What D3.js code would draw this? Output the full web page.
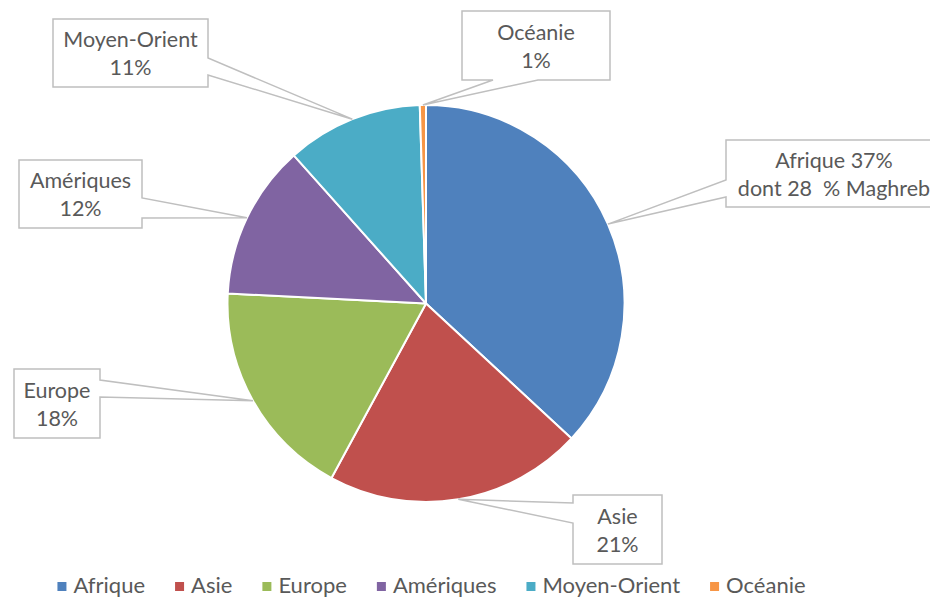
<!DOCTYPE html>
<html><head><meta charset="utf-8">
<script src="https://cdn.jsdelivr.net/npm/d3@7"></script>
<style>html,body{margin:0;padding:0;background:#fff;overflow:hidden} text{white-space:pre}</style>
</head><body>
<svg id="c" width="930" height="598"></svg>
<script>
const categories = ["Afrique","Asie","Europe","Amériques","Moyen-Orient","Océanie"];
const values = [36.9, 21.0, 17.9, 12.6, 11.1, 0.5];
const labelLine1 = ["Afrique 37%","Asie","Europe","Amériques","Moyen-Orient","Océanie"];
const labelLine2 = ["dont 28  % Maghreb","21%","18%","12%","11%","1%"];
const colors = ["#4F81BD","#C0504D","#9BBB59","#8064A2","#4BACC6","#F79646"];

// callout box layout
const boxes = [
  {x:726,y:140,w:216,h:67,side:"left",b1:180,b2:197},
  {x:573,y:495,w:89,h:69,side:"left",b1:503,b2:523},
  {x:14,y:369,w:86,h:69,side:"right",b1:380,b2:397},
  {x:19,y:160,w:123,h:68,side:"right",b1:198,b2:218},
  {x:53,y:19,w:155,h:68,side:"right",b1:58,b2:75},
  {x:462,y:11,w:148,h:69,side:"bottom",b1:493,b2:538}
];

const FONT = "Lato, 'Open Sans', sans-serif";
const svg = d3.select("#c");
const cx = 426, cy = 303.5, R = 198.5;

const pie = d3.pie().sort(null).value(d=>d);
const arcs = pie(values);
const arc = d3.arc().innerRadius(0).outerRadius(R);

const g = svg.append("g").attr("transform",`translate(${cx},${cy})`);
g.selectAll("path").data(arcs).join("path")
  .attr("d",arc).attr("fill",(d,i)=>colors[i])
  .attr("stroke","#fff").attr("stroke-width",2).attr("stroke-linejoin","round");

// callouts
arcs.forEach((a,i)=>{
  const m = (a.startAngle+a.endAngle)/2;
  const tx = cx + R*Math.sin(m), ty = cy - R*Math.cos(m);
  const b = boxes[i];
  let pts;
  if (b.side==="right") pts=[[b.x,b.y],[b.x+b.w,b.y],[b.x+b.w,b.b1],[tx,ty],[b.x+b.w,b.b2],[b.x+b.w,b.y+b.h],[b.x,b.y+b.h]];
  else if (b.side==="left") pts=[[b.x,b.y],[b.x+b.w,b.y],[b.x+b.w,b.y+b.h],[b.x,b.y+b.h],[b.x,b.b2],[tx,ty],[b.x,b.b1]];
  else pts=[[b.x,b.y],[b.x+b.w,b.y],[b.x+b.w,b.y+b.h],[b.b2,b.y+b.h],[tx,ty],[b.b1,b.y+b.h],[b.x,b.y+b.h]];
  svg.append("polygon").attr("points",pts.map(p=>p.join(",")).join(" "))
    .attr("fill","#fff").attr("stroke","#BFBFBF").attr("stroke-width",1.5);
  const mx = b.x+b.w/2, my = b.y+b.h/2;
  const t = svg.append("text").attr("text-anchor","middle").attr("font-family",FONT)
    .attr("font-size",21.5).attr("fill","#595959");
  t.append("tspan").attr("x",mx).attr("y",my-6).text(labelLine1[i]);
  t.append("tspan").attr("x",mx).attr("y",my+22).text(labelLine2[i]);
});

// legend
const leg = svg.append("g");
let x = 0;
categories.forEach((c,i)=>{
  const gi = leg.append("g");
  gi.append("rect").attr("x",x).attr("y",582).attr("width",9).attr("height",9).attr("fill",colors[i]);
  const t = gi.append("text").attr("x",x+16).attr("y",593).attr("font-family",FONT)
    .attr("font-size",22).attr("fill","#595959").text(c);
  const w = t.node().getComputedTextLength();
  x += 16 + w + 30;
});
const total = x - 30;
leg.attr("transform",`translate(${(57+806)/2 - total/2},0)`);
</script>
</body></html>
